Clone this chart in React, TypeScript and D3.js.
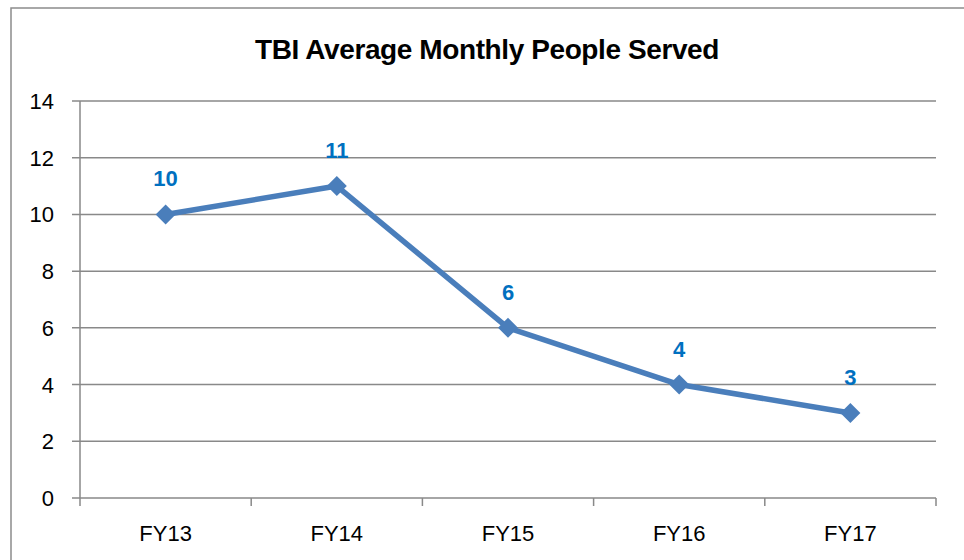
import React from "react";
import * as d3 from "d3";

const categories = ["FY13", "FY14", "FY15", "FY16", "FY17"];
const values = [10, 11, 6, 4, 3];
const yTicks = [0, 2, 4, 6, 8, 10, 12, 14];
const title = "TBI Average Monthly People Served";

export default function App() {
  const W = 964, H = 560;
  const left = 80, right = 936, top = 101, bottom = 498;
  const x = d3.scaleBand<string>().domain(categories).range([left, right]).padding(0);
  const y = d3.scaleLinear().domain([0, 14]).range([bottom, top]);
  const cx = (c: string) => (x(c) as number) + x.bandwidth() / 2;
  const line = d3.line<number>().x((_, i) => cx(categories[i])).y((v) => y(v));
  const font = "'Liberation Sans', Arial, sans-serif";
  const grid = "#898989";
  const blue = "#4a7ebb";
  const boundaries = [left, ...categories.map((c) => (x(c) as number) + x.bandwidth())];
  return (
    <svg width={W} height={H} style={{ position: "absolute", left: 0, top: 0 }}>
      <rect x={0} y={0} width={W} height={H} fill="#fff" />
      <rect x={11} y={8} width={W + 20} height={H + 20} fill="none" stroke="#8c8c8c" strokeWidth={1.5} />
      <text x={487} y={59} textAnchor="middle" fontFamily={font} fontWeight="bold" fontSize={28} letterSpacing={-0.4} fill="#000">{title}</text>
      {yTicks.map((t) => (
        <g key={t}>
          <line x1={72} x2={right} y1={y(t)} y2={y(t)} stroke={grid} strokeWidth={1.5} />
          <text x={54} y={y(t) + 8} textAnchor="end" fontFamily={font} fontSize={22} fill="#000">{t}</text>
        </g>
      ))}
      <line x1={left} x2={left} y1={top} y2={506} stroke={grid} strokeWidth={1.5} />
      {boundaries.slice(1).map((b, i) => (
        <line key={i} x1={b} x2={b} y1={bottom} y2={506} stroke={grid} strokeWidth={1.5} />
      ))}
      {categories.map((c) => (
        <text key={c} x={cx(c)} y={541} textAnchor="middle" fontFamily={font} fontSize={22} fill="#000">{c}</text>
      ))}
      <path d={line(values) || ""} fill="none" stroke={blue} strokeWidth={5.5} strokeLinejoin="round" />
      {values.map((v, i) => {
        const px = cx(categories[i]), py = y(v), s = 10;
        return (
          <g key={i}>
            <path d={`M${px},${py - s}L${px + s},${py}L${px},${py + s}L${px - s},${py}Z`} fill={blue} />
            <text x={px} y={py - 28} textAnchor="middle" fontFamily={font} fontWeight="bold" fontSize={22} fill="#0070c0">{v}</text>
          </g>
        );
      })}
    </svg>
  );
}
